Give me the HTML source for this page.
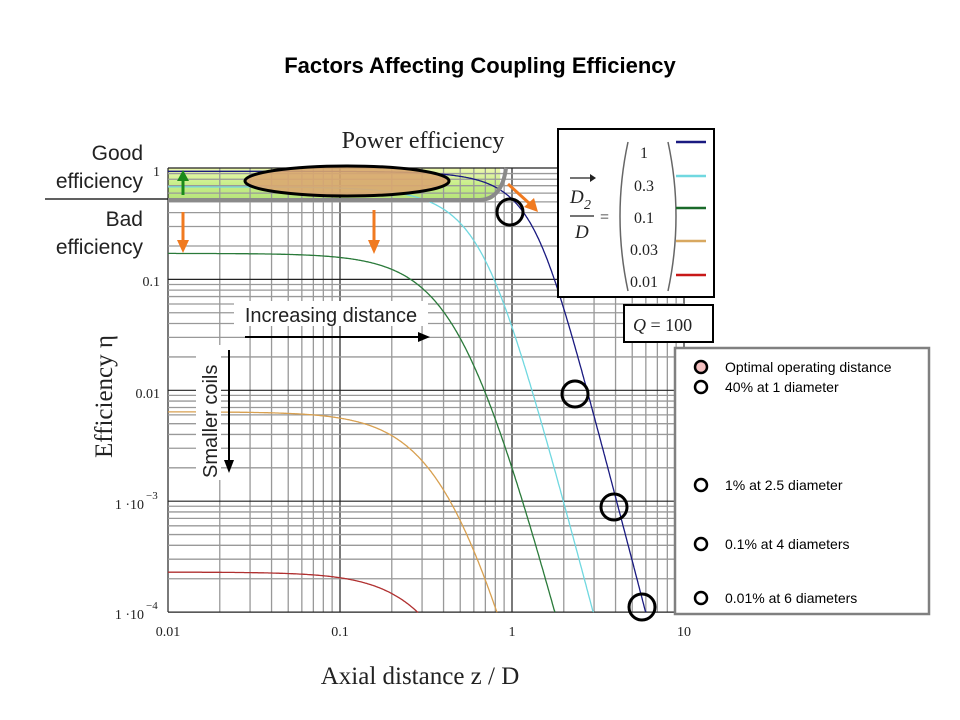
<!DOCTYPE html>
<html><head><meta charset="utf-8"><style>
body{margin:0;background:#fff;}
svg{display:block;font-family:"Liberation Sans",sans-serif;}
.serif{font-family:"Liberation Serif",serif;}
</style></head><body>
<svg id="s" width="960" height="720" viewBox="0 0 960 720" xmlns="http://www.w3.org/2000/svg">
<defs>
<linearGradient id="gg" x1="0" y1="0" x2="0" y2="1">
<stop offset="0" stop-color="#eef9b0"/><stop offset="0.5" stop-color="#c8ee8a"/><stop offset="1" stop-color="#b6e47a"/>
</linearGradient>
</defs>
<text x="480" y="73" text-anchor="middle" font-size="22" font-weight="bold">Factors Affecting Coupling Efficiency</text>
<path d="M168 168 L500 168 Q502 196 490 200 L168 200 Z" fill="url(#gg)"/>
<g id="grid"></g>
<g id="curves"></g>
<path d="M168 200 L480 200 Q502 199 506 168" fill="none" stroke="#8a8a8a" stroke-width="4"/>
<line x1="45" y1="199" x2="168" y2="199" stroke="#000" stroke-width="1.2"/>
<ellipse cx="347" cy="181" rx="102" ry="15" fill="#d9a770" fill-opacity="0.9" stroke="#000" stroke-width="3"/>
<line x1="183" y1="195" x2="183" y2="180" stroke="#1a8a1a" stroke-width="3"/>
<polygon points="177,181 189,181 183,170" fill="#1a8a1a"/>
<line x1="183" y1="212" x2="183" y2="242" stroke="#f07a20" stroke-width="3"/>
<polygon points="177,240 189,240 183,253" fill="#f07a20"/>
<line x1="374" y1="210" x2="374" y2="242" stroke="#f07a20" stroke-width="3"/>
<polygon points="368,240 380,240 374,254" fill="#f07a20"/>
<line x1="508" y1="184" x2="530" y2="204" stroke="#f07a20" stroke-width="3"/>
<polygon points="524,207 534,198 538,212" fill="#f07a20"/>
<text x="143" y="160" text-anchor="end" font-size="21" fill="#222">Good</text>
<text x="143" y="188" text-anchor="end" font-size="21" fill="#222">efficiency</text>
<text x="143" y="226" text-anchor="end" font-size="21" fill="#222">Bad</text>
<text x="143" y="254" text-anchor="end" font-size="21" fill="#222">efficiency</text>
<text x="423" y="148" text-anchor="middle" font-size="24" class="serif" fill="#222">Power efficiency</text>
<rect x="234" y="301" width="194" height="25" fill="#fff"/>
<text x="331" y="322" text-anchor="middle" font-size="20" fill="#222">Increasing distance</text>
<line x1="245" y1="337" x2="420" y2="337" stroke="#000" stroke-width="2"/>
<polygon points="418,332 430,337 418,342" fill="#000"/>
<rect x="196" y="345" width="25" height="135" fill="#fff"/>
<text transform="translate(217,478) rotate(-90)" font-size="20" fill="#222">Smaller coils</text>
<line x1="229" y1="350" x2="229" y2="462" stroke="#000" stroke-width="2"/>
<polygon points="224,460 234,460 229,473" fill="#000"/>
<text transform="translate(112,458) rotate(-90)" font-size="25" class="serif" fill="#222">Efficiency η</text>
<text x="420" y="684" text-anchor="middle" font-size="25" class="serif" fill="#222">Axial distance z / D</text>
<g class="serif" font-size="14" fill="#222">
<text x="160" y="176" text-anchor="end">1</text>
<text x="160" y="286" text-anchor="end">0.1</text>
<text x="160" y="398" text-anchor="end">0.01</text>
<text x="144" y="509" text-anchor="end">1 ·10</text><text x="146" y="499" font-size="11">−3</text>
<text x="144" y="619" text-anchor="end">1 ·10</text><text x="146" y="609" font-size="11">−4</text>
<text x="168" y="636" text-anchor="middle">0.01</text>
<text x="340" y="636" text-anchor="middle">0.1</text>
<text x="512" y="636" text-anchor="middle">1</text>
<text x="684" y="636" text-anchor="middle">10</text>
</g>
<g fill="none" stroke="#000" stroke-width="3">
<circle cx="510" cy="212" r="13"/><circle cx="575" cy="394" r="13"/>
<circle cx="614" cy="507" r="13"/><circle cx="642" cy="607" r="13"/>
</g>
<rect x="558" y="129" width="156" height="168" fill="#fff" stroke="#000" stroke-width="2"/>
<g class="serif" fill="#222">
<line x1="570" y1="178" x2="594" y2="178" stroke="#222" stroke-width="1.2"/>
<polygon points="590,174 596,178 590,182" fill="#222"/>
<text x="570" y="203" font-size="19" font-style="italic">D</text><text x="584" y="209" font-size="14" font-style="italic">2</text>
<line x1="570" y1="216" x2="594" y2="216" stroke="#222" stroke-width="1.2"/>
<text x="575" y="238" font-size="19" font-style="italic">D</text>
<text x="600" y="222" font-size="16">=</text>
<path d="M628 142 Q612 216 628 291" fill="none" stroke="#666" stroke-width="1.5"/>
<path d="M668 142 Q684 216 668 291" fill="none" stroke="#666" stroke-width="1.5"/>
<g font-size="16" text-anchor="middle">
<text x="644" y="158">1</text><text x="644" y="191">0.3</text><text x="644" y="223">0.1</text><text x="644" y="255">0.03</text><text x="644" y="287">0.01</text>
</g>
</g>
<g stroke-width="2.5">
<line x1="676" y1="142" x2="706" y2="142" stroke="#1a1a80"/>
<line x1="676" y1="176" x2="706" y2="176" stroke="#70d8e0"/>
<line x1="676" y1="208" x2="706" y2="208" stroke="#1a6a2a"/>
<line x1="676" y1="241" x2="706" y2="241" stroke="#d8a860"/>
<line x1="676" y1="275" x2="706" y2="275" stroke="#c81818"/>
</g>
<rect x="624" y="305" width="89" height="37" fill="#fff" stroke="#000" stroke-width="2"/>
<text x="633" y="331" font-size="18" class="serif" fill="#222"><tspan font-style="italic">Q</tspan> = 100</text>
<rect x="675" y="348" width="254" height="266" fill="#fff" stroke="#808080" stroke-width="2.5"/>
<g fill="none" stroke="#000" stroke-width="2.5">
<circle cx="701" cy="367" r="6" fill="#f4c0c0"/><circle cx="701" cy="387" r="6"/>
<circle cx="701" cy="485" r="6"/><circle cx="701" cy="544" r="6"/><circle cx="701" cy="598" r="6"/>
</g>
<g font-size="14" fill="#000">
<text x="725" y="372">Optimal operating distance</text>
<text x="725" y="392">40% at 1 diameter</text>
<text x="725" y="490">1% at 2.5 diameter</text>
<text x="725" y="549">0.1% at 4 diameters</text>
<text x="725" y="603">0.01% at 6 diameters</text>
</g>
</svg>
<script>
(function(){
var X0=168,DX=172,Y0=168.5,DY=110.9;
function px(x){return X0+DX*(Math.log10(x)+2);}
function py(e){return Y0-DY*Math.log10(e);}
var g=document.getElementById('grid'),h='';
for(var d=-2;d<1;d++)for(var m=1;m<10;m++){var v=m*Math.pow(10,d);var x=px(v);
h+='<line x1="'+x+'" y1="168" x2="'+x+'" y2="612" stroke="'+(m==1?'#222':'#999')+'" stroke-width="'+(m==1?1.2:1.3)+'"/>';}
h+='<line x1="684" y1="168" x2="684" y2="612" stroke="#222" stroke-width="1.2"/>';
for(var d=-4;d<0;d++)for(var m=1;m<10;m++){var v=m*Math.pow(10,d);var y=py(v);
h+='<line x1="168" y1="'+y+'" x2="684" y2="'+y+'" stroke="'+(m==1?'#222':'#999')+'" stroke-width="'+(m==1?1.2:1.3)+'"/>';}
h+='<line x1="168" y1="168" x2="684" y2="168" stroke="#222" stroke-width="1.2"/>';
g.innerHTML=h;
var P=[[34.6,'#1a1a80',0.5],[5.2,'#70d8e0',0.47],[1.0,'#2a7a3a',0.5],[0.161,'#d8a050',0.47],[0.0303,'#b03030',0.5]];
var out='';
P.forEach(function(p){var c=p[2];var d='';var started=false;
for(var i=0;i<=600;i++){var x=Math.pow(10,-2+3*i/600);var k=p[0]/Math.pow(1+(x/c)*(x/c),1.5);
var e=k*k/Math.pow(1+Math.sqrt(1+k*k),2);if(e<1e-4){ if(started){d+='L'+px(x).toFixed(1)+' 612';}break;}
d+=(started?'L':'M')+px(x).toFixed(1)+' '+py(e).toFixed(1);started=true;}
out+='<path d="'+d+'" fill="none" stroke="'+p[1]+'" stroke-width="1.3"/>';});
document.getElementById('curves').innerHTML=out;
})();
</script>
</body></html>
